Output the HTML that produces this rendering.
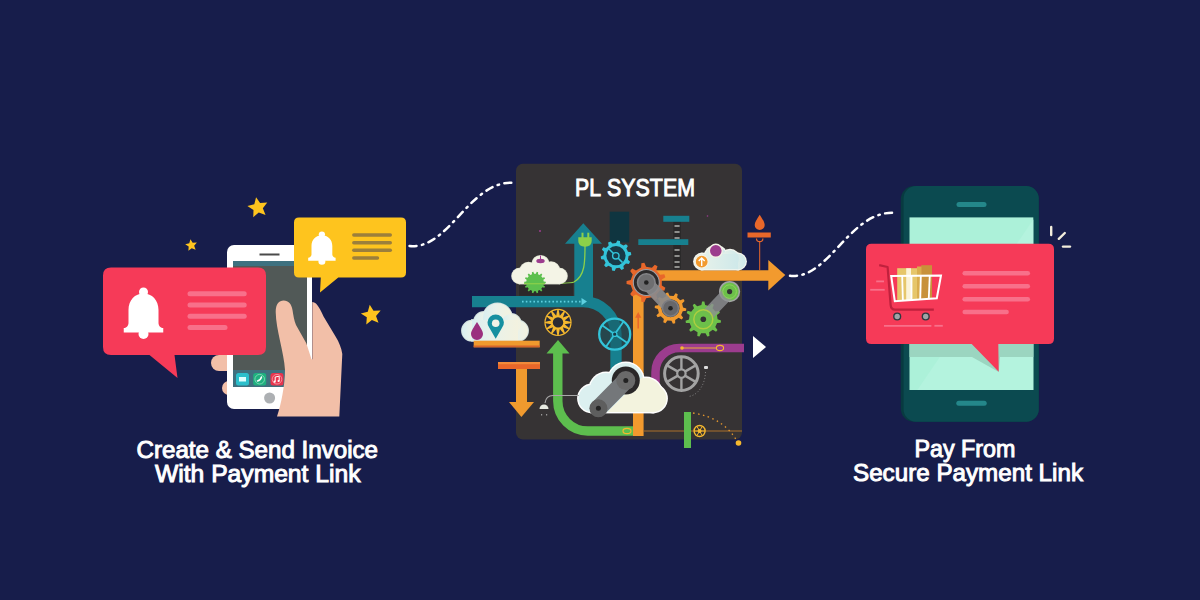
<!DOCTYPE html>
<html><head><meta charset="utf-8"><title>PL System</title>
<style>html,body{margin:0;padding:0;background:#171d4b;width:1200px;height:600px;overflow:hidden}svg{display:block}</style>
</head><body><svg width="1200" height="600" viewBox="0 0 1200 600"><rect width="1200" height="600" fill="#171d4b"/>
<polygon points="256.06,197.16 260.09,203.11 267.26,202.62 262.85,208.30 265.53,214.96 258.77,212.52 253.25,217.13 253.49,209.95 247.40,206.12 254.30,204.13" fill="#fec41e"/>
<polygon points="190.44,239.16 192.66,242.74 196.87,242.58 194.16,245.80 195.61,249.76 191.70,248.17 188.39,250.77 188.69,246.57 185.19,244.22 189.29,243.21" fill="#fec41e"/>
<polygon points="369.74,304.80 373.50,310.87 380.64,310.60 376.03,316.05 378.49,322.75 371.88,320.05 366.27,324.47 366.80,317.35 360.86,313.38 367.80,311.68" fill="#fec41e"/>
<rect x="211" y="355" width="24" height="16" rx="8" fill="#f2bfa8"/>
<rect x="222" y="381" width="14" height="14" rx="7" fill="#f2bfa8"/>
<rect x="227" y="245" width="85" height="164" rx="7" fill="#ffffff"/>
<rect x="233" y="261" width="74" height="126" fill="#515957"/>
<rect x="233" y="261" width="74" height="5" fill="#3e7180"/>
<rect x="233" y="370" width="74" height="17" fill="#3f6f7e"/>
<rect x="259.5" y="253.5" width="20" height="2" fill="#4a4a4a"/>
<circle cx="269.6" cy="398" r="5.5" fill="#adb0b3"/>
<rect x="236" y="373" width="13" height="12.5" rx="2.5" fill="#2bbfcb"/>
<rect x="239" y="377" width="7" height="4.5" fill="#dff" />
<rect x="253.2" y="373" width="13" height="12.5" rx="2.5" fill="#1fb07f"/>
<circle cx="259.7" cy="379.2" r="4.8" fill="none" stroke="#8ddcbc" stroke-width="0.8"/>
<path d="M257.5,381 q3,-0.5 4,-4" stroke="#fff" stroke-width="1.5" fill="none" stroke-linecap="round"/>
<rect x="270.5" y="373" width="13" height="12.5" rx="2.5" fill="#e8344d"/>
<circle cx="277" cy="379.2" r="4.8" fill="none" stroke="#f5a3ad" stroke-width="0.8"/>
<path d="M275.2,381.5 V377 L279.2,376.2 V380.8" stroke="#fff" stroke-width="1" fill="none"/><circle cx="274.6" cy="381.7" r="1.1" fill="#fff"/><circle cx="278.6" cy="381" r="1.1" fill="#fff"/>
<path d="M275.7,312 C275.7,304 279,300.5 283.7,300.5 C288.5,300.5 291.5,304 292.5,310 C293.5,316 294,320 296,325 L306.3,343.3 L311.5,359.3 L312.3,359.3 L312.3,302 C315.5,302 318.5,305 323.7,316.7 L335.7,336.7 C339,342 341.5,348 342.3,354 L339.3,416.5 L277,416.5 C281,405 285,385 285,370 C284,352 276,330 275.7,312 Z" fill="#f2bfa8"/>
<path d="M111,267.5 H258 Q266,267.5 266,275.5 V347 Q266,355 258,355 H174.5 L177.5,378 L149.5,355 H111 Q103,355 103,347 V275.5 Q103,267.5 111,267.5 Z" fill="#f63a58"/>
<path d="M128.50,323.00 V310.00 C128.50,300.00 135.00,293.50 143.50,293.50 C152.00,293.50 158.50,300.00 158.50,310.00 V323.00 C158.50,326.00 161.00,328.00 163.25,328.00 V332.50 H123.75 V328.00 C126.00,328.00 128.50,326.00 128.50,323.00 Z" fill="#fff"/><ellipse cx="143.5" cy="292.00" rx="4.50" ry="4.50" fill="#fff"/><ellipse cx="143.5" cy="334.00" rx="5.00" ry="5.00" fill="#fff"/>
<line x1="190" y1="293.8" x2="244.2" y2="293.8" stroke="#f8708a" stroke-width="5" stroke-linecap="round"/>
<line x1="190" y1="305" x2="244.2" y2="305" stroke="#f8708a" stroke-width="5" stroke-linecap="round"/>
<line x1="190" y1="316.3" x2="244.2" y2="316.3" stroke="#f8708a" stroke-width="5" stroke-linecap="round"/>
<line x1="190" y1="327.5" x2="225.0" y2="327.5" stroke="#f8708a" stroke-width="5" stroke-linecap="round"/>
<path d="M299,217.5 H401 Q406,217.5 406,222.5 V272.5 Q406,277.5 401,277.5 H338.3 L320,292.5 L320.8,277.5 H299 Q294,277.5 294,272.5 V222.5 Q294,217.5 299,217.5 Z" fill="#fec41e"/>
<path d="M311.49,254.47 V246.03 C311.49,239.53 316.00,235.30 321.90,235.30 C327.80,235.30 332.31,239.53 332.31,246.03 V254.47 C332.31,256.43 334.04,257.73 335.61,257.73 V260.65 H308.19 V257.73 C309.75,257.73 311.49,256.43 311.49,254.47 Z" fill="#fff"/><ellipse cx="321.9" cy="234.33" rx="3.12" ry="2.93" fill="#fff"/><ellipse cx="321.9" cy="261.62" rx="3.47" ry="3.25" fill="#fff"/>
<line x1="353.8" y1="235" x2="390.3" y2="235" stroke="#9c7f3b" stroke-width="3.4" stroke-linecap="round"/>
<line x1="353.8" y1="242.7" x2="390.3" y2="242.7" stroke="#9c7f3b" stroke-width="3.4" stroke-linecap="round"/>
<line x1="353.8" y1="250.3" x2="390.3" y2="250.3" stroke="#9c7f3b" stroke-width="3.4" stroke-linecap="round"/>
<line x1="353.8" y1="258" x2="377.5" y2="258" stroke="#9c7f3b" stroke-width="3.4" stroke-linecap="round"/>
<path d="M409.5,246 C450,250 470,178 515.5,183" fill="none" stroke="#fff" stroke-width="2.5" stroke-dasharray="7 5.5 1.5 5.5" stroke-linecap="round"/>
<rect x="516" y="163.8" width="226" height="275.7" rx="7" fill="#363334"/>
<defs><linearGradient id="cl1" x1="0" x2="1" y1="0" y2="0"><stop offset="0" stop-color="#d9eef0"/><stop offset="0.45" stop-color="#e9f2ea"/><stop offset="1" stop-color="#f3f2df"/></linearGradient><linearGradient id="cl2" x1="0" x2="1" y1="0" y2="0"><stop offset="0" stop-color="#f1f2e6"/><stop offset="1" stop-color="#eef0e2"/></linearGradient><linearGradient id="cl3" x1="0" x2="1" y1="0" y2="0"><stop offset="0" stop-color="#e6f1ea"/><stop offset="1" stop-color="#cfe9ea"/></linearGradient><linearGradient id="cl4" gradientUnits="userSpaceOnUse" x1="613.5" y1="396" x2="623.5" y2="406"><stop offset="0" stop-color="#dcf0f0"/><stop offset="0.49" stop-color="#dcf0f0"/><stop offset="0.51" stop-color="#f3f3de"/><stop offset="1" stop-color="#f3f3de"/></linearGradient></defs>
<rect x="609.7" y="211.7" width="19.5" height="30.8" fill="#0f3540"/>
<rect x="673.3" y="221" width="7.5" height="48" fill="#2a2829"/>
<g stroke="#c8c8c4" stroke-width="1.3"><line x1="674.5" y1="226" x2="679.6" y2="226"/><line x1="674.5" y1="232" x2="679.6" y2="232"/><line x1="674.5" y1="238" x2="679.6" y2="238"/><line x1="674.5" y1="250" x2="679.6" y2="250"/><line x1="674.5" y1="256" x2="679.6" y2="256"/><line x1="674.5" y1="262" x2="679.6" y2="262"/><line x1="674.5" y1="267" x2="679.6" y2="267"/></g>
<rect x="663.3" y="215.8" width="26" height="6" fill="#17808f"/>
<rect x="638.3" y="239.2" width="50" height="5.8" fill="#17808f"/>
<circle cx="540" cy="231" r="1" fill="#9c3c8e"/><circle cx="707.5" cy="216" r="0.8" fill="#9c3c8e"/>
<path d="M472,301.6 H583 A33,33 0 0 1 616,334.6 V372" fill="none" stroke="#17808f" stroke-width="11.3"/>
<rect x="574.3" y="242" width="18.7" height="60" fill="#17808f"/>
<polygon points="583.3,223.3 602,243.7 565,243.7" fill="#17808f"/>
<line x1="522" y1="301.6" x2="582" y2="301.6" stroke="#5fd0e0" stroke-width="1.6" stroke-dasharray="1.6 2.2"/>
<polygon points="581.5,298 587,301.6 581.5,305.2" fill="#5fd0e0"/>
<path d="M585,246 C585,262 585,276 574,282 C568,284.5 540,283.7 520,283.7" fill="none" stroke="#8cd04a" stroke-width="1.3"/>
<rect x="581.5" y="232.7" width="2" height="6" fill="#8cd04a"/><rect x="587.3" y="232.7" width="2" height="6" fill="#8cd04a"/>
<path d="M578.3,237.3 H591.7 V241 Q591.7,246.7 585,246.7 Q578.3,246.7 578.3,241 Z" fill="#8cd04a"/>
<rect x="519" y="283.7" width="54" height="12" fill="#2b292a"/>
<circle cx="519.5" cy="276" r="8.3" fill="#e2e4d4"/><circle cx="559.5" cy="276" r="8.3" fill="#e2e4d4"/><circle cx="528.5" cy="271" r="9.3" fill="#e2e4d4"/><circle cx="540.5" cy="264" r="9.100000000000001" fill="#e2e4d4"/><circle cx="551" cy="270.5" r="9.3" fill="#e2e4d4"/><rect x="518.7" y="269.2" width="41.6" height="15.2" fill="#e2e4d4"/><circle cx="519.5" cy="276" r="7.5" fill="#f4f4e6"/><circle cx="559.5" cy="276" r="7.5" fill="#f4f4e6"/><circle cx="528.5" cy="271" r="8.5" fill="#f4f4e6"/><circle cx="540.5" cy="264" r="8.3" fill="#f4f4e6"/><circle cx="551" cy="270.5" r="8.5" fill="#f4f4e6"/><rect x="519.5" y="270" width="40" height="13.6" fill="#f4f4e6"/>
<ellipse cx="540.5" cy="261" rx="4.2" ry="2.2" fill="#9c3c8e"/><line x1="540.5" y1="255.5" x2="540.5" y2="260" stroke="#9c3c8e" stroke-width="1"/>
<polygon points="543.73,281.40 545.78,281.77 545.78,283.23 543.73,283.60 543.34,285.29 545.02,286.52 544.39,287.83 542.39,287.28 541.31,288.64 542.29,290.47 541.15,291.38 539.58,290.01 538.02,290.77 538.11,292.84 536.69,293.17 535.87,291.26 534.13,291.26 533.31,293.17 531.89,292.84 531.98,290.77 530.42,290.01 528.85,291.38 527.71,290.47 528.69,288.64 527.61,287.28 525.61,287.83 524.98,286.52 526.66,285.29 526.27,283.60 524.22,283.23 524.22,281.77 526.27,281.40 526.66,279.71 524.98,278.48 525.61,277.17 527.61,277.72 528.69,276.36 527.71,274.53 528.85,273.62 530.42,274.99 531.98,274.23 531.89,272.16 533.31,271.83 534.13,273.74 535.87,273.74 536.69,271.83 538.11,272.16 538.02,274.23 539.58,274.99 541.15,273.62 542.29,274.53 541.31,276.36 542.39,277.72 544.39,277.17 545.02,278.48 543.34,279.71" fill="#5dc04e"/>
<line x1="524" y1="283.7" x2="545" y2="283.7" stroke="#8cd04a" stroke-width="1.2"/>
<polygon points="628.00,251.86 630.90,252.22 631.28,254.93 628.59,256.08 627.96,259.65 630.10,261.65 628.81,264.06 625.97,263.41 623.36,265.93 623.91,268.80 621.45,270.00 619.53,267.79 615.94,268.30 614.70,270.94 612.01,270.47 611.75,267.56 608.54,265.86 605.99,267.27 604.09,265.30 605.59,262.80 604.00,259.54 601.10,259.18 600.72,256.47 603.41,255.32 604.04,251.75 601.90,249.75 603.19,247.34 606.03,247.99 608.64,245.47 608.09,242.60 610.55,241.40 612.47,243.61 616.06,243.10 617.30,240.46 619.99,240.93 620.25,243.84 623.46,245.54 626.01,244.13 627.91,246.10 626.41,248.60" fill="#33c4d9"/>
<circle cx="616" cy="255.7" r="9.6" fill="#173a47"/>
<line x1="609" y1="249" x2="622.6" y2="262.6" stroke="#33c4d9" stroke-width="1.5"/>
<circle cx="615.8" cy="255.8" r="3.2" fill="#173a47" stroke="#33c4d9" stroke-width="1.4"/>
<circle cx="472" cy="330.7" r="10.9" fill="#d5e3e0"/><circle cx="518" cy="330.7" r="10.9" fill="#d5e3e0"/><circle cx="484" cy="322" r="10.9" fill="#d5e3e0"/><circle cx="497.5" cy="318" r="15.4" fill="#d5e3e0"/><circle cx="511" cy="324" r="10.9" fill="#d5e3e0"/><rect x="471.1" y="319.1" width="47.8" height="22.5" fill="#d5e3e0"/><circle cx="472" cy="330.7" r="10" fill="url(#cl1)"/><circle cx="518" cy="330.7" r="10" fill="url(#cl1)"/><circle cx="484" cy="322" r="10" fill="url(#cl1)"/><circle cx="497.5" cy="318" r="14.5" fill="url(#cl1)"/><circle cx="511" cy="324" r="10" fill="url(#cl1)"/><rect x="472" y="320" width="46" height="20.7" fill="url(#cl1)"/>
<path d="M477,322 C474,327 471,331 471,334 A6,6 0 0 0 483,334 C483,331 480,327 477,322 Z" fill="#9b2f7e"/>
<path d="M495.7,338.7 L489.5,328 A8.2,8.2 0 1 1 501.9,328 Z" fill="#1690a0"/><circle cx="495.7" cy="323.3" r="3.8" fill="#f1f2e6"/>
<rect x="473.7" y="340.7" width="66" height="6.6" fill="#f09a2e"/><rect x="473.7" y="345.5" width="66" height="1.8" fill="#d6652a"/>
<rect x="498" y="362" width="42" height="7" fill="#e8672a"/><rect x="498" y="362" width="42" height="2.2" fill="#f08a3a"/>
<rect x="516" y="369" width="11" height="34" fill="#f09a2e"/>
<polygon points="509,402 534,402 521.4,417" fill="#f09a2e"/>
<circle cx="558" cy="322.4" r="13.6" fill="#f5b82e"/>
<polygon points="570.48,323.17 569.19,327.97 564.66,324.19" fill="#262a3c"/><polygon points="568.42,329.31 564.91,332.82 562.88,327.28" fill="#262a3c"/><polygon points="563.57,333.59 558.77,334.88 559.79,329.06" fill="#262a3c"/><polygon points="557.23,334.88 552.43,333.59 556.21,329.06" fill="#262a3c"/><polygon points="551.09,332.82 547.58,329.31 553.12,327.28" fill="#262a3c"/><polygon points="546.81,327.97 545.52,323.17 551.34,324.19" fill="#262a3c"/><polygon points="545.52,321.63 546.81,316.83 551.34,320.61" fill="#262a3c"/><polygon points="547.58,315.49 551.09,311.98 553.12,317.52" fill="#262a3c"/><polygon points="552.43,311.21 557.23,309.92 556.21,315.74" fill="#262a3c"/><polygon points="558.77,309.92 563.57,311.21 559.79,315.74" fill="#262a3c"/><polygon points="564.91,311.98 568.42,315.49 562.88,317.52" fill="#262a3c"/><polygon points="569.19,316.83 570.48,321.63 564.66,320.61" fill="#262a3c"/>
<circle cx="558" cy="322.4" r="5.2" fill="#2b2b33"/>
<path d="M557.8,352 V401 A30,30 0 0 0 587.8,431 H636" fill="none" stroke="#5dbe4e" stroke-width="9.4"/>
<polygon points="558,340 569.5,353.5 546.5,353.5" fill="#5dbe4e"/>
<ellipse cx="627" cy="431" rx="4" ry="2.6" fill="none" stroke="#f5b82e" stroke-width="1.2"/>
<circle cx="614.7" cy="334.2" r="15.5" fill="#1a5560" fill-opacity="0.55" stroke="#33c4d9" stroke-width="2.3"/>
<line x1="614.70" y1="334.20" x2="627.40" y2="343.09" stroke="#33c4d9" stroke-width="1.8"/><line x1="614.70" y1="334.20" x2="605.81" y2="346.90" stroke="#33c4d9" stroke-width="1.8"/><line x1="614.70" y1="334.20" x2="602.00" y2="325.31" stroke="#33c4d9" stroke-width="1.8"/><line x1="614.70" y1="334.20" x2="623.59" y2="321.50" stroke="#33c4d9" stroke-width="1.8"/>
<circle cx="614.7" cy="334.2" r="2.2" fill="#173a47" stroke="#33c4d9" stroke-width="1.2"/>
<path d="M638.3,436 V291 Q638.3,275.5 653,275.5 H770" fill="none" stroke="#f29a2e" stroke-width="10.6"/>
<polygon points="768.3,260 785.3,275 768.3,290.5" fill="#f29a2e"/>
<polygon points="638.2,312 641.3,317.8 635.1,317.8" fill="#e8672a"/><line x1="638.2" y1="317" x2="638.2" y2="328.5" stroke="#e8672a" stroke-width="1.5"/>
<circle cx="702" cy="261.5" r="8.9" fill="#f4f6ef"/><circle cx="738" cy="261.5" r="8.9" fill="#f4f6ef"/><circle cx="715.8" cy="257" r="12.2" fill="#f4f6ef"/><circle cx="730" cy="259" r="10.2" fill="#f4f6ef"/><rect x="700.8" y="252.8" width="38.4" height="17.599999999999998" fill="#f4f6ef"/><circle cx="702" cy="261.5" r="7.7" fill="url(#cl3)"/><circle cx="738" cy="261.5" r="7.7" fill="url(#cl3)"/><circle cx="715.8" cy="257" r="11" fill="url(#cl3)"/><circle cx="730" cy="259" r="9" fill="url(#cl3)"/><rect x="702" y="254" width="36" height="15.2" fill="url(#cl3)"/>
<circle cx="701.7" cy="261.7" r="6.5" fill="#f29a2e" stroke="#f4f2e6" stroke-width="1.2"/><path d="M701.7,266 V258 M698.7,261 L701.7,258 L704.7,261" stroke="#fff" stroke-width="1.4" fill="none"/>
<circle cx="715.8" cy="250.8" r="6.5" fill="#9c3c8e" stroke="#f4f2e6" stroke-width="1.4"/>
<path d="M759.7,214.7 C757,219 754.7,222 754.7,225 A5,5 0 0 0 764.7,225 C764.7,222 762.4,219 759.7,214.7 Z" fill="#e8672a"/>
<rect x="747.5" y="232.5" width="23.3" height="5" fill="#e8672a"/>
<path d="M756.5,238.5 A3.2,3.2 0 0 0 762.9,238.5" fill="none" stroke="#e8672a" stroke-width="1.2"/><line x1="759.7" y1="242" x2="759.7" y2="270" stroke="#e8672a" stroke-width="1"/>
<polygon points="660.09,274.79 664.32,274.29 665.38,277.21 661.82,279.54 661.82,285.46 665.38,287.79 664.32,290.71 660.09,290.21 656.29,294.74 657.51,298.82 654.82,300.37 651.91,297.27 646.08,298.30 644.40,302.21 641.34,301.67 641.10,297.42 635.98,294.46 632.18,296.38 630.18,294.00 632.73,290.59 630.70,285.03 626.56,284.05 626.56,280.95 630.70,279.97 632.73,274.41 630.18,271.00 632.18,268.62 635.98,270.54 641.10,267.58 641.34,263.33 644.40,262.79 646.08,266.70 651.91,267.73 654.82,264.63 657.51,266.18 656.29,270.26" fill="#e8672a"/>
<circle cx="646.3" cy="282.5" r="13" fill="#2d2b2c" stroke="#a0a0a5" stroke-width="1.1"/>
<polygon points="683.07,307.40 686.30,308.39 686.09,310.76 682.74,311.17 681.14,314.94 683.17,317.64 681.61,319.43 678.66,317.80 675.15,319.91 675.20,323.28 672.88,323.82 671.46,320.76 667.38,320.41 665.44,323.17 663.25,322.24 663.89,318.93 660.80,316.24 657.61,317.33 656.38,315.29 658.85,312.99 657.93,309.00 654.70,308.01 654.91,305.64 658.26,305.23 659.86,301.46 657.83,298.76 659.39,296.97 662.34,298.60 665.85,296.49 665.80,293.12 668.12,292.58 669.54,295.64 673.62,295.99 675.56,293.23 677.75,294.16 677.11,297.47 680.20,300.16 683.39,299.07 684.62,301.11 682.15,303.41" fill="#f29a2e"/>
<circle cx="670.5" cy="308.2" r="9" fill="#3a3a3c"/>
<line x1="646.3" y1="282.5" x2="670.5" y2="308.2" stroke="#8a8a8c" stroke-width="13" stroke-linecap="round" opacity="0.92"/>
<circle cx="646.3" cy="282.5" r="8.8" fill="#6e6e70" stroke="#858588" stroke-width="1.5"/><circle cx="646.3" cy="282.5" r="2.3" fill="#222"/>
<circle cx="670.5" cy="308.2" r="8" fill="#67676a" stroke="#7c7c80" stroke-width="1.5"/><circle cx="670.5" cy="308.2" r="2.3" fill="#222"/>
<polygon points="717.60,319.32 721.05,320.54 720.73,322.80 717.08,323.03 715.27,327.03 717.51,329.92 716.02,331.66 712.82,329.87 709.13,332.26 709.45,335.90 707.26,336.55 705.54,333.32 701.15,333.34 699.45,336.58 697.25,335.94 697.55,332.29 693.85,329.93 690.66,331.74 689.16,330.01 691.38,327.11 689.55,323.12 685.89,322.91 685.56,320.65 689.00,319.41 689.61,315.06 686.65,312.91 687.59,310.83 691.16,311.65 694.02,308.32 692.69,304.91 694.61,303.67 697.17,306.28 701.38,305.03 702.10,301.44 704.39,301.43 705.13,305.02 709.35,306.24 711.89,303.61 713.82,304.84 712.51,308.26 715.39,311.57 718.96,310.73 719.91,312.81 716.96,314.97" fill="#6cc04a"/>
<circle cx="729.6" cy="291.6" r="9.8" fill="#6cc04a" stroke="#a4a4a6" stroke-width="1.6"/>
<line x1="703.3" y1="319.2" x2="729.6" y2="291.6" stroke="#8e9094" stroke-width="12.5" stroke-linecap="round" opacity="0.8"/>
<circle cx="729.6" cy="291.6" r="6.8" fill="#6cc04a" stroke="#8fd45a" stroke-width="1"/><circle cx="729.6" cy="291.6" r="2.6" fill="#333"/>
<circle cx="703.3" cy="319.2" r="9.5" fill="#6cc04a" stroke="#b5d040" stroke-width="1.5" opacity="0.9"/><circle cx="703.3" cy="319.2" r="6.5" fill="#6cc04a"/><circle cx="703.3" cy="319.2" r="2.8" fill="#333"/>
<path d="M655.5,390 V372 A24,24 0 0 1 679.5,348 H744" fill="none" stroke="#9c3c8e" stroke-width="8.5"/>
<line x1="682" y1="348" x2="716" y2="348" stroke="#f5b82e" stroke-width="0.9"/><circle cx="682" cy="348" r="1.8" fill="#f5b82e"/><ellipse cx="720" cy="348" rx="3.6" ry="2.6" fill="none" stroke="#f5b82e" stroke-width="1.1"/>
<circle cx="681.4" cy="373.6" r="16.8" fill="none" stroke="#a3a3a3" stroke-width="3"/>
<line x1="681.40" y1="373.60" x2="681.40" y2="357.60" stroke="#a3a3a3" stroke-width="2.4"/><line x1="681.40" y1="373.60" x2="695.26" y2="365.60" stroke="#a3a3a3" stroke-width="2.4"/><line x1="681.40" y1="373.60" x2="695.26" y2="381.60" stroke="#a3a3a3" stroke-width="2.4"/><line x1="681.40" y1="373.60" x2="681.40" y2="389.60" stroke="#a3a3a3" stroke-width="2.4"/><line x1="681.40" y1="373.60" x2="667.54" y2="381.60" stroke="#a3a3a3" stroke-width="2.4"/><line x1="681.40" y1="373.60" x2="667.54" y2="365.60" stroke="#a3a3a3" stroke-width="2.4"/>
<circle cx="681.4" cy="373.6" r="4.2" fill="#353334" stroke="#a3a3a3" stroke-width="2.2"/>
<path d="M705.5,372 C705,386 697,396 688,396.5" fill="none" stroke="#8a8a8a" stroke-width="0.9" stroke-dasharray="1 2"/>
<rect x="704" y="366" width="4" height="3" rx="1" fill="#ddd"/>
<circle cx="592" cy="398.5" r="14.9" fill="#ffffff"/><circle cx="653" cy="398.5" r="14.9" fill="#ffffff"/><circle cx="606" cy="389" r="17.4" fill="#ffffff"/><circle cx="625.8" cy="380.5" r="18.9" fill="#ffffff"/><circle cx="646" cy="394" r="17.4" fill="#ffffff"/><rect x="590.6" y="383.6" width="63.8" height="29.8" fill="#ffffff"/><circle cx="592" cy="398.5" r="13.5" fill="url(#cl4)"/><circle cx="653" cy="398.5" r="13.5" fill="url(#cl4)"/><circle cx="606" cy="389" r="16" fill="url(#cl4)"/><circle cx="625.8" cy="380.5" r="17.5" fill="url(#cl4)"/><circle cx="646" cy="394" r="16" fill="url(#cl4)"/><rect x="592" y="385" width="61" height="27" fill="url(#cl4)"/>
<circle cx="625.8" cy="380.5" r="14" fill="#2a2829"/>
<line x1="625.8" y1="380.5" x2="598.4" y2="408.3" stroke="#74777a" stroke-width="17" stroke-linecap="round"/>
<circle cx="625.8" cy="380.5" r="9.5" fill="#6a6a6a"/><circle cx="625.8" cy="380.5" r="2.5" fill="#222"/>
<circle cx="598.4" cy="408.3" r="9" fill="#5e5e5e"/><circle cx="598.4" cy="408.3" r="2.5" fill="#222"/>
<path d="M579,395.5 H553 Q546,395.5 545,403" fill="none" stroke="#a8a8a8" stroke-width="1.1"/>
<path d="M539.5,409 A4.5,4.5 0 0 1 548.5,409 Z" fill="#e6e9e0"/><g fill="#999"><rect x="541" y="414" width="1.2" height="1.5"/><rect x="546" y="414" width="1.2" height="1.5"/></g>
<line x1="644" y1="431" x2="742" y2="431" stroke="#c9822a" stroke-width="0.8"/>
<rect x="684" y="412" width="7" height="36" fill="#5dbe4e"/>
<circle cx="699.6" cy="431" r="5.5" fill="none" stroke="#f5b82e" stroke-width="1.4"/><line x1="699.60" y1="431.00" x2="705.10" y2="431.00" stroke="#f5b82e" stroke-width="1"/><line x1="699.60" y1="431.00" x2="702.35" y2="435.76" stroke="#f5b82e" stroke-width="1"/><line x1="699.60" y1="431.00" x2="696.85" y2="435.76" stroke="#f5b82e" stroke-width="1"/><line x1="699.60" y1="431.00" x2="694.10" y2="431.00" stroke="#f5b82e" stroke-width="1"/><line x1="699.60" y1="431.00" x2="696.85" y2="426.24" stroke="#f5b82e" stroke-width="1"/><line x1="699.60" y1="431.00" x2="702.35" y2="426.24" stroke="#f5b82e" stroke-width="1"/><circle cx="699.6" cy="431" r="2" fill="#f5b82e"/>
<path d="M693,413 Q725,418 738,443" fill="none" stroke="#e89a2e" stroke-width="1.3" stroke-dasharray="1.5 3.5"/>
<circle cx="738.5" cy="443" r="2.8" fill="#f5b82e"/>
<polygon points="753,336 766,347 753,358" fill="#ffffff"/>
<path d="M790,275.8 C830,280 850,208 897,213" fill="none" stroke="#fff" stroke-width="2.5" stroke-dasharray="7 5.5 1.5 5.5" stroke-linecap="round"/>
<rect x="900.8" y="186.1" width="138" height="235.6" rx="13" fill="#083a40"/>
<rect x="903.6" y="186.1" width="135.2" height="235.6" rx="12.5" fill="#0b4a50"/>
<rect x="909.5" y="217.4" width="123.8" height="172.6" fill="#acf1d9"/>
<polygon points="1033.3,219.5 1033.3,390 917.4,390" fill="#b4f3de"/>
<rect x="909.5" y="344" width="123.8" height="13" fill="#9bd5c0"/>
<polygon points="972,357 1000,357 998.7,372" fill="#9bd5c0"/>
<rect x="956.5" y="202.1" width="30" height="5" rx="2.5" fill="#24878a"/>
<rect x="956.3" y="400.8" width="30.4" height="5" rx="2.5" fill="#24878a"/>
<g stroke="#f2eddc" stroke-width="2.4" stroke-linecap="round"><line x1="1051.2" y1="227" x2="1051.2" y2="235"/><line x1="1058.8" y1="238.8" x2="1064.8" y2="233"/><line x1="1063" y1="246.6" x2="1070" y2="246.6"/></g>
<path d="M871.5,243.8 H1048.5 Q1054,243.8 1054,249.3 V338.5 Q1054,344 1048.5,344 H998.3 L998.7,371.7 L971.7,344 H871.5 Q866,344 866,338.5 V249.3 Q866,243.8 871.5,243.8 Z" fill="#f63a58"/>
<line x1="964.7" y1="273.3" x2="1027.8" y2="273.3" stroke="#f8708a" stroke-width="4.5" stroke-linecap="round"/>
<line x1="964.7" y1="286.3" x2="1027.8" y2="286.3" stroke="#f8708a" stroke-width="4.5" stroke-linecap="round"/>
<line x1="964.7" y1="299.3" x2="1027.8" y2="299.3" stroke="#f8708a" stroke-width="4.5" stroke-linecap="round"/>
<line x1="964.7" y1="312" x2="1006.5999999999999" y2="312" stroke="#f8708a" stroke-width="4.5" stroke-linecap="round"/>
<defs><clipPath id="bsk"><polygon points="891.2,276 941,275.4 936.8,298.2 894.8,301.2"/></clipPath><clipPath id="bsk2"><polygon points="880,255 950,255 936.8,298.2 894.8,301.2"/></clipPath></defs>
<g clip-path="url(#bsk2)"><rect x="897.2" y="268.2" width="24" height="34" fill="#e6c66a"/><rect x="921.2" y="265.2" width="10.8" height="37" fill="#c8913a"/><rect x="906.2" y="268.2" width="4.8" height="34" fill="#fbf3d8"/><rect x="917" y="266.5" width="4.5" height="35" fill="#d9ad4d"/></g>
<g clip-path="url(#bsk)" stroke="#ffffff" stroke-width="1.8"><line x1="902" y1="270" x2="903" y2="305"/><line x1="911.5" y1="270" x2="911.5" y2="305"/><line x1="921" y1="270" x2="920" y2="305"/><line x1="930" y1="270" x2="928.5" y2="305"/></g>
<polygon points="891.2,276 941,275.4 936.8,298.2 894.8,301.2" fill="none" stroke="#ffffff" stroke-width="2"/>
<path d="M879.2,265.2 L887.6,267 L890.6,304.8 Q891,309.6 895,309.6 H933.8" fill="none" stroke="#c0213d" stroke-width="2.2" stroke-linejoin="round"/>
<circle cx="897.2" cy="316.5" r="3.4" fill="#a0a4a8" stroke="#2f3a40" stroke-width="1.4"/>
<circle cx="925.7" cy="316.5" r="3.4" fill="#a0a4a8" stroke="#2f3a40" stroke-width="1.4"/>
<g stroke="#f8708a" stroke-width="1.8"><line x1="876.2" y1="281.4" x2="884" y2="281.4"/><line x1="870.2" y1="289.8" x2="884.7" y2="289.8"/><line x1="884" y1="325.8" x2="931.4" y2="325.8"/><line x1="934.4" y1="325.8" x2="942.8" y2="325.8"/></g>
<text x="136.5" y="458.2" font-size="23.5" textLength="241.5" font-family="Liberation Sans" font-weight="normal" fill="#fff" stroke="#fff" stroke-width="0.95" lengthAdjust="spacingAndGlyphs">Create &amp; Send Invoice</text>
<text x="155" y="481.5" font-size="23.5" textLength="205.5" font-family="Liberation Sans" font-weight="normal" fill="#fff" stroke="#fff" stroke-width="0.95" lengthAdjust="spacingAndGlyphs">With Payment Link</text>
<text x="575" y="196.3" font-size="23.5" textLength="26" font-family="Liberation Sans" font-weight="normal" fill="#fff" stroke="#fff" stroke-width="0.95" lengthAdjust="spacingAndGlyphs">PL</text>
<text x="607" y="196.3" font-size="23.5" textLength="88" font-family="Liberation Sans" font-weight="normal" fill="#fff" stroke="#fff" stroke-width="0.95" lengthAdjust="spacingAndGlyphs">SYSTEM</text>
<text x="914.4" y="456.8" font-size="23.5" textLength="101" font-family="Liberation Sans" font-weight="normal" fill="#fff" stroke="#fff" stroke-width="0.95" lengthAdjust="spacingAndGlyphs">Pay From</text>
<text x="853" y="480.8" font-size="23.5" textLength="230" font-family="Liberation Sans" font-weight="normal" fill="#fff" stroke="#fff" stroke-width="0.95" lengthAdjust="spacingAndGlyphs">Secure Payment Link</text></svg></body></html>
